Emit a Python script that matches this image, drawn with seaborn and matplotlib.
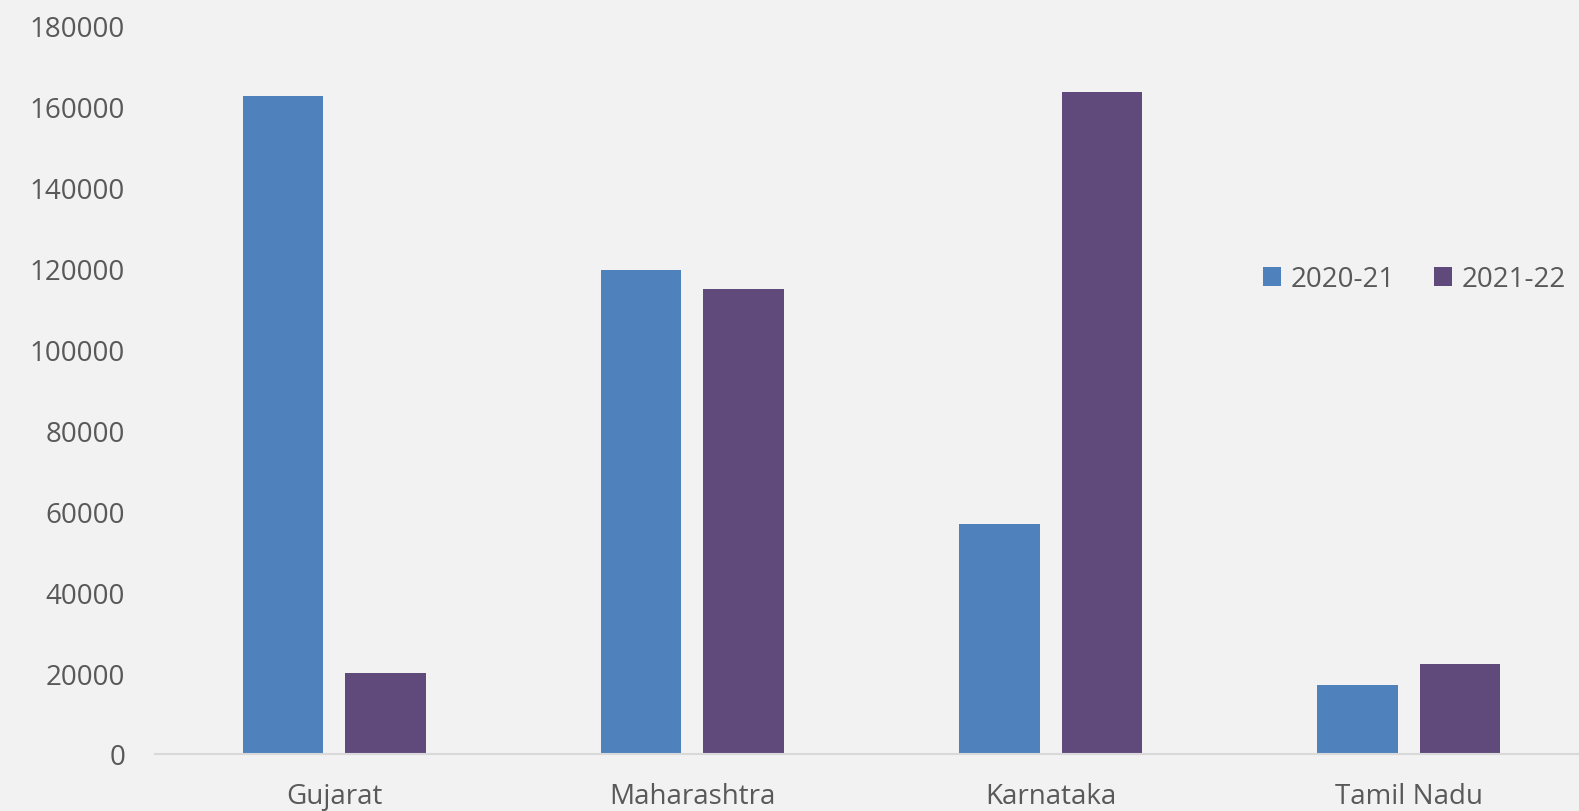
import pandas as pd
import seaborn as sns
import matplotlib.pyplot as plt
from matplotlib.ticker import MultipleLocator

states = ["Gujarat", "Maharashtra", "Karnataka", "Tamil Nadu"]
years = ["2020-21", "2021-22"]
values_2020_21 = [162700, 119700, 56800, 17100]
values_2021_22 = [20000, 114900, 163800, 22200]

colors = ["#4F81BD", "#604A7B"]
bg = "#F2F2F2"
text_color = "#595959"

df = pd.DataFrame({
    "state": states * 2,
    "year": [years[0]] * 4 + [years[1]] * 4,
    "value": values_2020_21 + values_2021_22,
})

sns.set_theme(style="white")
plt.rcParams["font.family"] = ["Open Sans", "DejaVu Sans"]

fig = plt.figure(figsize=(15.79, 8.12), dpi=100, facecolor=bg)
ax = fig.add_axes([155 / 1579, 57 / 812, 1433 / 1579, (755 - 27) / 812])
ax.set_facecolor(bg)

sns.barplot(data=df, x="state", y="value", hue="year", palette=colors,
            width=0.573, gap=0.216, ax=ax, legend=True,
            edgecolor="none", saturation=1)

ax.set_ylim(0, 180000)
ax.set_xlim(-0.5, 3.5)
ax.yaxis.set_major_locator(MultipleLocator(20000))
ax.set_xlabel("")
ax.set_ylabel("")

for s in ["top", "right", "left"]:
    ax.spines[s].set_visible(False)
ax.spines["bottom"].set_color("#D9D9D9")
ax.spines["bottom"].set_linewidth(1.5)

ax.tick_params(axis="y", length=0, pad=21.5, labelsize=20, labelcolor=text_color)
ax.tick_params(axis="x", length=0, pad=20.5, labelsize=20, labelcolor=text_color)

handles, labels = ax.get_legend_handles_labels()
ax.get_legend().remove()
fig.legend(handles, labels, loc="center", bbox_to_anchor=(0.8957, 0.655),
           ncol=2, frameon=False, fontsize=20, labelcolor=text_color,
           handlelength=0.65, handleheight=0.65, handletextpad=0.35,
           columnspacing=1.4)

fig.savefig("out.png", dpi=100, facecolor=bg)
